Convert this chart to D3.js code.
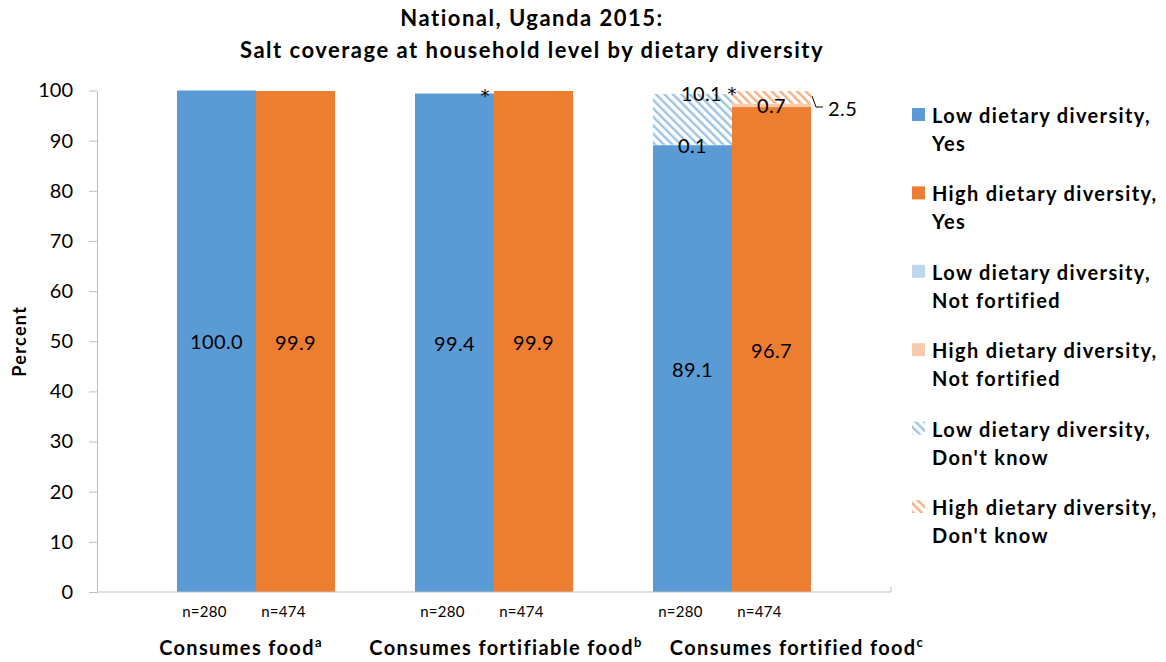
<!DOCTYPE html>
<html>
<head>
<meta charset="utf-8">
<script src="https://cdn.jsdelivr.net/npm/d3@7"></script>
<style>
  body { margin: 0; background: #fff; }
  svg { display: block; font-family: Lato, "Open Sans", sans-serif; }
  .bold { font-weight: bold; letter-spacing: 1.35px; }
  .star { font-family: "DejaVu Sans", sans-serif; }
</style>
</head>
<body>
<div id="vis"></div>
<script>
// chart data
const categories = ["Consumes food", "Consumes fortifiable food", "Consumes fortified food"];
const catSup = ["a", "b", "c"];
const groups = ["Low", "High"];
const nLabels = ["n=280", "n=474"];
const lowYes = [100.0, 99.4, 89.1];
const highYes = [99.9, 99.9, 96.7];
const lowNotFortified = [0, 0, 0.1];
const highNotFortified = [0, 0, 0.7];
const lowDontKnow = [0, 0, 10.1];
const highDontKnow = [0, 0, 2.5];
const yTicks = [0, 10, 20, 30, 40, 50, 60, 70, 80, 90, 100];
const legendLabels = [
  ["Low dietary diversity,", "Yes"],
  ["High dietary diversity,", "Yes"],
  ["Low dietary diversity,", "Not fortified"],
  ["High dietary diversity,", "Not fortified"],
  ["Low dietary diversity,", "Don't know"],
  ["High dietary diversity,", "Don't know"]
];

const colors = {
  LowYes: "#5b9bd5", HighYes: "#ed7d31",
  LowNot: "#bdd7ee", HighNot: "#f8cbad",
  LowDk: "#9dc3e6", HighDk: "#f4b183"
};

const width = 1166, height = 662;
const mLeft = 97, mRight = 891, mTop = 90.5, mBottom = 592;

const svg = d3.select("#vis").append("svg")
  .attr("width", width)
  .attr("height", height);

// hatch patterns for "Don't know"
const defs = svg.append("defs");
[["hatchLow", colors.LowDk], ["hatchHigh", colors.HighDk]].forEach(([id, c]) => {
  const p = defs.append("pattern")
    .attr("id", id)
    .attr("patternUnits", "userSpaceOnUse")
    .attr("width", 6).attr("height", 6)
    .attr("patternTransform", "rotate(-45)");
  p.append("rect").attr("width", 6).attr("height", 6).attr("fill", "#fff");
  p.append("rect").attr("width", 2.4).attr("height", 6).attr("fill", c);
});

const x = d3.scaleBand().domain(categories).range([mLeft, mRight])
  .paddingInner(0.336).paddingOuter(0.336);
const xs = d3.scaleBand().domain(groups).range([0, x.bandwidth()]);
const y = d3.scaleLinear().domain([0, 100]).range([mBottom, mTop]);

// build stacked rows
const rows = [];
categories.forEach((c, i) => {
  [["Low", lowYes, lowNotFortified, lowDontKnow], ["High", highYes, highNotFortified, highDontKnow]]
    .forEach(([g, yes, nf, dk]) => {
      const segs = [
        { key: "Yes", v: yes[i] },
        { key: "Not", v: nf[i] },
        { key: "Dk", v: dk[i] }
      ];
      let acc = 0;
      segs.forEach(s => { s.y0 = acc; acc += s.v; s.y1 = acc; });
      rows.push({ cat: c, i, g, segs, total: acc });
    });
});

// title
svg.append("text")
  .attr("class", "bold")
  .attr("x", 532).attr("y", 26)
  .attr("text-anchor", "middle")
  .style("font-size", "22px").style("letter-spacing", "1.5px")
  .text("National, Uganda 2015:");
svg.append("text")
  .attr("class", "bold")
  .attr("x", 532).attr("y", 58)
  .attr("text-anchor", "middle")
  .style("font-size", "22px").style("letter-spacing", "1.5px")
  .text("Salt coverage at household level by dietary diversity");

// y axis
const yAxis = svg.append("g")
  .attr("transform", `translate(${mLeft},0)`)
  .call(d3.axisLeft(y).tickValues(yTicks).tickSize(8).tickPadding(16).tickSizeOuter(0));
yAxis.select(".domain").attr("stroke", "#bfbfbf");
yAxis.selectAll(".tick line").attr("stroke", "#bfbfbf");
yAxis.selectAll(".tick text")
  .style("font-size", "20px").style("font-family", "Lato, sans-serif")
  .attr("fill", "#000");

svg.append("text")
  .attr("class", "bold")
  .attr("transform", `translate(19,${(mTop + mBottom) / 2}) rotate(-90)`)
  .attr("text-anchor", "middle")
  .attr("dominant-baseline", "central")
  .style("font-size", "18px")
  .text("Percent");

// bars
const bars = svg.append("g");
rows.forEach(r => {
  const bx = x(r.cat) + xs(r.g);
  r.segs.forEach(s => {
    if (s.v <= 0) return;
    let fill = colors[r.g + s.key];
    if (s.key === "Dk") fill = r.g === "Low" ? "url(#hatchLow)" : "url(#hatchHigh)";
    bars.append("rect")
      .attr("x", bx).attr("width", xs.bandwidth())
      .attr("y", y(s.y1)).attr("height", y(s.y0) - y(s.y1))
      .attr("fill", fill);
  });
});

// x axis line
svg.append("line")
  .attr("x1", mLeft).attr("x2", mRight).attr("y1", mBottom).attr("y2", mBottom)
  .attr("stroke", "#bfbfbf");
svg.append("line")
  .attr("x1", mRight).attr("x2", mRight).attr("y1", mBottom - 5).attr("y2", mBottom)
  .attr("stroke", "#bfbfbf");

// value labels
const lab = svg.append("g").style("font-size", "20px").style("letter-spacing", "0.4px");
rows.forEach(r => {
  const bx = x(r.cat) + xs(r.g);
  const cx = bx + xs.bandwidth() / 2;
  const yes = r.segs[0], nf = r.segs[1], dk = r.segs[2];
  lab.append("text")
    .attr("x", cx).attr("y", y((yes.y0 + yes.y1) / 2))
    .attr("text-anchor", "middle").attr("dominant-baseline", "central")
    .text(yes.v.toFixed(1));
  if (nf.v > 0) {
    lab.append("text")
      .attr("x", cx).attr("y", y((nf.y0 + nf.y1) / 2))
      .attr("text-anchor", "middle").attr("dominant-baseline", "central")
      .text(nf.v.toFixed(1));
  }
  if (dk.v > 0) {
    const xr = bx + xs.bandwidth();
    if (r.g === "Low") {
      const t = lab.append("text")
        .attr("x", xr + 5).attr("y", y(r.total) - 1)
        .attr("text-anchor", "end").attr("dominant-baseline", "central");
      t.append("tspan").text(dk.v.toFixed(1) + " ");
      t.append("tspan").attr("class", "star").style("font-size", "18px").text("*");
    } else {
      const yt = y(r.total);
      lab.append("path")
        .attr("d", `M${xr + 1},${yt + 5}L${xr + 5},${yt + 16}L${xr + 12},${yt + 16}`)
        .attr("fill", "none").attr("stroke", "#000").attr("stroke-width", 1);
      lab.append("text")
        .attr("x", xr + 17).attr("y", yt + 17)
        .attr("dominant-baseline", "central")
        .text(dk.v.toFixed(1));
    }
  }
});

// significance star on fortifiable food, low diversity
svg.append("text")
  .attr("class", "star")
  .attr("x", x(categories[1]) + xs("Low") + xs.bandwidth() - 9)
  .attr("y", y(lowYes[1]) + 8)
  .attr("text-anchor", "middle")
  .style("font-size", "18px")
  .text("*");

// n labels
const nG = svg.append("g").style("font-size", "15px").style("letter-spacing", "0.3px");
categories.forEach(c => {
  groups.forEach((g, j) => {
    nG.append("text")
      .attr("x", x(c) + xs(g) + xs.bandwidth() / 2 - 12)
      .attr("y", 611)
      .attr("text-anchor", "middle").attr("dominant-baseline", "central")
      .text(nLabels[j]);
  });
});

// category labels
const catOffsets = [-15, 12, 65];
categories.forEach((c, i) => {
  const t = svg.append("text")
    .attr("class", "bold")
    .attr("x", x(c) + x.bandwidth() / 2 + catOffsets[i])
    .attr("y", 655)
    .attr("text-anchor", "middle")
    .style("font-size", "20px");
  t.append("tspan").text(c);
  t.append("tspan").attr("dy", -8).style("font-size", "13px").text(catSup[i]);
});

// legend
const legendFill = [colors.LowYes, colors.HighYes, colors.LowNot, colors.HighNot, "url(#hatchLow)", "url(#hatchHigh)"];
const leg = svg.append("g");
legendLabels.forEach((lines, i) => {
  const ly = 115 + i * 78.4;
  leg.append("rect")
    .attr("x", 912).attr("y", ly - 7).attr("width", 13).attr("height", 13)
    .attr("fill", legendFill[i]);
  lines.forEach((t, k) => {
    leg.append("text")
      .attr("class", "bold")
      .attr("x", 932).attr("y", ly + k * 28)
      .attr("dominant-baseline", "central")
      .style("font-size", "20px")
      .text(t);
  });
});
</script>
</body>
</html>
